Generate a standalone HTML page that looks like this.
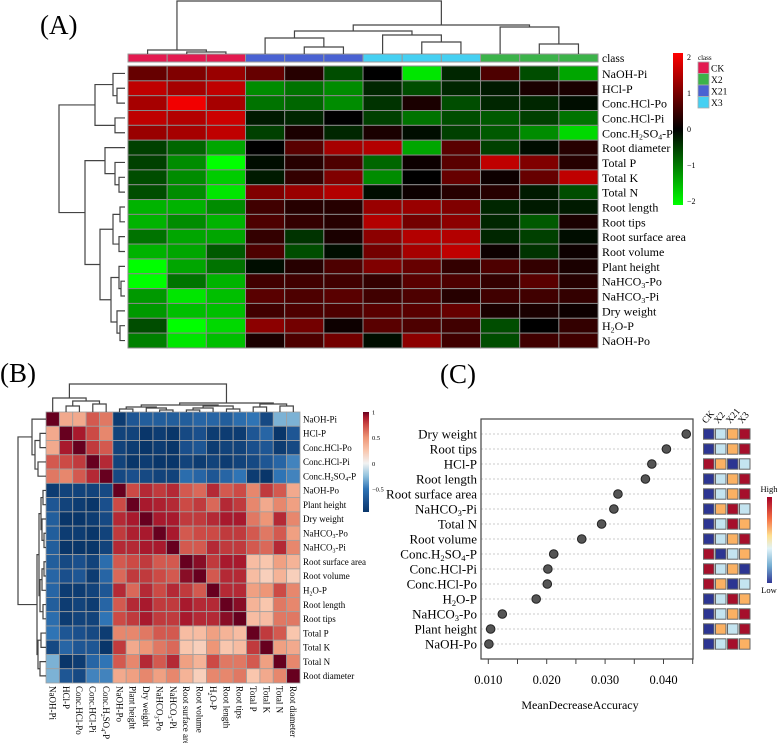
<!DOCTYPE html>
<html><head><meta charset="utf-8"><style>
html,body{margin:0;padding:0;background:#fff;}
svg{display:block;font-family:"Liberation Serif",serif;}
</style></head><body>
<svg id="fig" width="778" height="743" viewBox="0 0 778 743" xmlns="http://www.w3.org/2000/svg">
<text x="40" y="34" font-size="27">(A)</text>
<text x="0" y="382" font-size="27">(B)</text>
<text x="440" y="383" font-size="27">(C)</text>
<g id="gA"></g>
<g id="gB"></g>
<g id="gC"></g>
</svg>
<script>
// ---------- Panel A data ----------
const aRows = ["NaOH-Pi","HCl-P","Conc.HCl-Po","Conc.HCl-Pi","Conc.H_2SO_4-P","Root diameter","Total P","Total K","Total N","Root length","Root tips","Root surface area","Root volume","Plant height","NaHCO_3-Po","NaHCO_3-Pi","Dry weight","H_2O-P","NaOH-Po"];
const aClasses = ["CK","CK","CK","X21","X21","X21","X3","X3","X3","X2","X2","X2"];
const aValues = [
[0.8,1.0,1.2,0.8,0.3,-0.6,0,-1.8,-0.3,0.6,-0.6,-1.3],
[1.5,1.3,1.5,-1.1,-0.9,-1.1,-0.3,-0.6,-0.3,-0.2,0.2,0.2],
[1.3,1.9,1.3,-0.9,-0.8,-1.1,-0.4,0.2,-0.6,-0.3,-0.3,-0.1],
[1.5,1.4,1.6,-0.2,-0.3,0,-0.5,-0.9,-0.6,-0.7,-0.5,-0.9],
[1.2,1.3,1.5,-0.5,0.2,-0.3,0.2,-0.1,-0.5,-0.7,-1.1,-1.7],
[-0.5,-0.8,-1.3,0,0.7,1.3,1.4,-1.3,0.7,-0.5,-0.1,0.3],
[-0.5,-1.1,-2,-0.1,0.3,0.6,-0.8,0.1,0.7,1.5,1.0,0.3],
[-0.6,-1.1,-1.6,-0.2,0.4,1.0,-1.1,0,0.8,0.1,0.8,1.5],
[-0.6,-1.1,-1.8,1.0,1.2,1.4,-0.1,0.1,0.3,0.3,-0.2,-0.6],
[-1.4,-1.4,-1.1,0.5,0.3,0.3,1.2,1.2,1.0,-0.3,-0.2,-0.2],
[-1.4,-1.1,-1.4,0.6,0.4,0.3,1.4,0.9,1.1,-0.3,-0.7,0.2],
[-0.9,-1.3,-1.3,0.4,-0.4,0.2,1.1,1.4,1.4,-0.3,-0.5,-0.1],
[-1.4,-1.3,-0.7,0.6,-0.6,-0.1,0.9,1.3,1.5,0.1,-0.4,0.1],
[-2,-1.3,-0.9,-0.1,0.3,0.6,1.0,0.8,0.4,0.6,0.4,0.2],
[-2,-0.9,-1.4,0.5,0.5,0.5,0.4,0.7,0.6,0.4,0.7,0.3],
[-1.2,-1.8,-1.5,0.7,0.6,0.7,0.5,0.6,0.3,0.5,0.5,0.4],
[-1.2,-1.5,-1.5,0.5,0.6,0.6,0.7,0.7,0.8,0.2,0.2,0.1],
[-0.6,-2,-1.7,1.1,0.9,0.1,0.7,0.6,0.5,-0.6,0,0.4],
[-1.0,-1.8,-1.5,0.2,0.6,0.9,-0.1,1.1,0.5,-0.6,0.5,0.5]
];
const aLegendTicks = [2,1,0,-1,-2];
const aLegendClasses = ["CK","X2","X21","X3"];
// ---------- Panel B data ----------
const bVars = ["NaOH-Pi","HCl-P","Conc.HCl-Po","Conc.HCl-Pi","Conc.H_2SO_4-P","NaOH-Po","Plant height","Dry weight","NaHCO_3-Po","NaHCO_3-Pi","Root surface area","Root volume","H_2O-P","Root length","Root tips","Total P","Total K","Total N","Root diameter"];
const bUpper = [
[1,.4,.4,.7,.6,-.9,-.7,-.65,-.65,-.65,-.65,-.6,-.6,-.65,-.55,-.5,-.8,-.3,-.3],
[1,.9,.75,.55,-.85,-.85,-.95,-.9,-.95,-.8,-.75,-.9,-.9,-.9,-.7,-.6,-.95,-.7],
[1,.8,.7,-.85,-.9,-.95,-.9,-.95,-.75,-.7,-.9,-.85,-.85,-.75,-.7,-.9,-.8],
[1,.85,-.85,-.95,-.9,-.95,-.95,-.85,-.9,-.85,-.9,-.85,-.8,-.7,-.6,-.45],
[1,-.8,-.75,-.8,-.85,-.85,-.55,-.6,-.7,-.6,-.5,-.9,-.95,-.5,-.45],
[1,.75,.85,.8,.85,.7,.65,.85,.7,.75,.55,.8,.7,.4],
[1,.9,.88,.85,.75,.8,.65,.85,.8,.55,.4,.55,.45],
[1,.9,.9,.8,.8,.85,.9,.9,.6,.5,.85,.55],
[1,.9,.7,.75,.75,.8,.8,.7,.6,.7,.45],
[1,.7,.7,.85,.8,.8,.7,.65,.85,.55],
[1,.95,.8,.9,.9,.3,.25,.45,.35],
[1,.7,.85,.85,.3,.2,.35,.2],
[1,.85,.85,.45,.5,.75,.55],
[1,.95,.35,.25,.6,.55],
[1,.3,.3,.6,.6],
[1,.8,.7,.25],
[1,.45,.4],
[1,.55],
[1]
];
const bLegendTicks = [1,0.5,0,-0.5];
// ---------- Panel C data ----------
const cVars = ["Dry weight","Root tips","HCl-P","Root length","Root surface area","NaHCO_3-Pi","Total N","Root volume","Conc.H_2SO_4-P","Conc.HCl-Pi","Conc.HCl-Po","H_2O-P","NaHCO_3-Po","Plant height","NaOH-Po"];
const cAccuracy = [0.0439,0.0405,0.0380,0.0369,0.0322,0.0315,0.0294,0.0260,0.0212,0.0202,0.0201,0.0182,0.0124,0.0104,0.0101];
const cGroups = ["CK","X2","X21","X3"];
const cRanks = [
[1,2,3,4],[1,2,3,4],[4,3,1,2],[1,2,3,4],[1,2,3,4],[1,3,4,2],[1,2,4,3],[1,2,3,4],
[4,1,2,3],[4,2,3,1],[4,3,1,2],[1,2,4,3],[1,2,3,4],[1,3,2,4],[1,2,4,3]
];
const cTicks = [0.010,0.015,0.020,0.025,0.030,0.035,0.040,0.045];
const cTickLabels = [0.010,0.020,0.030,0.040];

const NS="http://www.w3.org/2000/svg";
function mk(parent,tag,attrs,txt){const e=document.createElementNS(NS,tag);for(const k in attrs)e.setAttribute(k,attrs[k]);if(txt!==undefined)e.textContent=txt;parent.appendChild(e);return e;}
// label with "_d" subscripts -> tspans
function lbl(parent,attrs,s){
  const t=mk(parent,"text",attrs);
  const fs=parseFloat(attrs["font-size"]);
  const parts=s.split(/(_\d)/);
  parts.forEach(p=>{if(!p)return;
    if(p[0]==="_"){mk(t,"tspan",{"font-size":fs*0.65,dy:fs*0.2},p[1]);mk(t,"tspan",{dy:-fs*0.2},"\u200b");}
    else mk(t,"tspan",{},p);});
  return t;
}
function hex(c){return [parseInt(c.slice(1,3),16),parseInt(c.slice(3,5),16),parseInt(c.slice(5,7),16)];}
function interp(stops,v){
  if(v<=stops[0][0])return stops[0][1];
  for(let i=1;i<stops.length;i++){if(v<=stops[i][0]){const a=stops[i-1],b=stops[i];const t=(v-a[0])/(b[0]-a[0]);const ca=hex(a[1]),cb=hex(b[1]);return "rgb("+ca.map((x,j)=>Math.round(x+(cb[j]-x)*t)).join(",")+")";}}
  return stops[stops.length-1][1];
}
function dendro(g,node,orient,edge,start,cell,name){
  function pos(n){ if(typeof n==="number")return {p:start+(n+.5)*cell,h:0};
    const l=pos(n[1]),r=pos(n[2]);const h=n[0];
    let d;
    if(orient==="top"){d=`M${l.p},${edge-l.h}V${edge-h}H${r.p}V${edge-r.h}`;}
    else {d=`M${edge-l.h},${l.p}H${edge-h}V${r.p}H${edge-r.h}`;}
    const e=mk(g,"path",{d:d,fill:"none",stroke:"#444","stroke-width":1.2});
    
    
    return {p:(l.p+r.p)/2,h:h};}
  pos(node);
}

// ---------- Draw A ----------
(function(){
  const g=document.getElementById("gA");
  const x0=128,cw=39.17,y0=66,rh=14.84;
  const clsCol={CK:"#e31a50",X21:"#4a62d2",X3:"#45d0f2",X2:"#3cb34a"};
  const colA=v=>v>=0?`rgb(${Math.round(Math.min(v,2)/2*255)},0,0)`:`rgb(0,${Math.round(Math.min(-v,2)/2*255)},0)`;
  aClasses.forEach((c,j)=>{const r=mk(g,"rect",{x:x0+j*cw,y:54,width:cw,height:8,fill:clsCol[c],stroke:"#999","stroke-width":1});
    });
  mk(g,"text",{x:602,y:62,"font-size":11.5},"class");
  aValues.forEach((row,i)=>{row.forEach((v,j)=>{const r=mk(g,"rect",{x:x0+j*cw,y:y0+i*rh,width:cw,height:rh,fill:colA(v),stroke:"#888","stroke-width":1});
      });
    const t=lbl(g,{x:602,y:y0+i*rh+rh/2+4.5,"font-size":12},aRows[i]);
    });
  const colTree=[53,[4,0,[2,1,2]],[29,[23,[16,3,[7,4,5]],[19,6,[12,7,8]]],[27,9,[10,10,11]]]];
  dendro(g,colTree,"top",54,x0,cw,"column-dendrogram");
  const rowTree=[66,[30,[12,0,[8,1,2]],[10,3,4]],[40,[20,5,[10,6,[6,7,8]]],[25,[12,[5,9,10],[6,11,12]],[14,[6,13,[4,14,15]],[8,16,[5,17,18]]]]]];
  dendro(g,rowTree,"left",125,y0,rh,"row-dendrogram");
  const defs=mk(g,"defs",{});
  const lg=mk(defs,"linearGradient",{id:"gradA",x1:0,y1:0,x2:0,y2:1});
  mk(lg,"stop",{offset:"0","stop-color":"#ff0000"});mk(lg,"stop",{offset:"0.5","stop-color":"#000000"});mk(lg,"stop",{offset:"1","stop-color":"#00ff00"});
  const cb=mk(g,"rect",{x:673,y:53,width:10,height:152,fill:"url(#gradA)"});
  
  aLegendTicks.forEach(t=>{const y=57+(2-t)/4*144;mk(g,"text",{x:687,y:y+3,"font-size":8},t<0?"−"+(-t):String(t));});
  mk(g,"text",{x:698,y:60,"font-size":7},"class");
  const lc={CK:"#e31a50",X2:"#3cb34a",X21:"#4a62d2",X3:"#45d0f2"};
  aLegendClasses.forEach((c,i)=>{const r=mk(g,"rect",{x:698,y:62+i*11.5,width:11,height:11.5,fill:lc[c],stroke:"#aaa","stroke-width":.8});
    
    mk(g,"text",{x:711,y:62+i*11.5+9.5,"font-size":9.5},c);});
})();

// ---------- Draw B ----------
(function(){
  const g=document.getElementById("gB");
  const n=bVars.length,x0=46,y0=412,cw=254/19,ch=271/19;
  const stops=[[-1,"#053061"],[-0.75,"#1a4f8c"],[-0.5,"#2f74b5"],[-0.25,"#8fc1dd"],[0,"#f2f2f2"],[0.25,"#f9c6ad"],[0.5,"#ee9677"],[0.75,"#cc4a45"],[0.9,"#a8192d"],[1,"#67001f"]];
  const M=[];for(let i=0;i<n;i++){M.push([]);}
  for(let i=0;i<n;i++)for(let k=0;k<bUpper[i].length;k++){const j=i+k;M[i][j]=bUpper[i][k];M[j][i]=bUpper[i][k];}
  for(let i=0;i<n;i++)for(let j=0;j<n;j++){const r=mk(g,"rect",{x:x0+j*cw,y:y0+i*ch,width:cw,height:ch,fill:interp(stops,M[i][j]),stroke:"#a0a0a0","stroke-width":0.8});
    }
  bVars.forEach((v,i)=>{const t=lbl(g,{x:x0+254+3,y:y0+i*ch+ch/2+3.2,"font-size":9},v);
    
    const cx=x0+(i+.5)*cw-3.2;
    const b=lbl(g,{x:0,y:0,"font-size":9,transform:`translate(${cx},${y0+271+3}) rotate(90)`},v);
    });
  const tree=[28,[14,0,[11,[6,1,2],[8,3,4]]],[9,[7,[5,[3,5,6],[4,7,[2,8,9]]],[6,[4,[2,10,11],12],[3,13,14]]],[8,[5,15,16],[6,17,18]]]];
  dendro(g,tree,"top",y0,x0,cw,"column-dendrogram");
  dendro(g,tree,"left",x0,y0,ch,"row-dendrogram");
  const defs=mk(g,"defs",{});
  const lg=mk(defs,"linearGradient",{id:"gradB",x1:0,y1:1,x2:0,y2:0});
  mk(lg,"stop",{offset:"0","stop-color":interp(stops,-0.95)});
  stops.forEach(s=>{if(s[0]>=-0.95)mk(lg,"stop",{offset:((s[0]+0.95)/1.95).toFixed(3),"stop-color":s[1]});});
  const cb=mk(g,"rect",{x:363,y:412,width:6,height:100,fill:"url(#gradB)"});
  
  bLegendTicks.forEach(t=>{const y=412+(1-t)/1.95*100;mk(g,"text",{x:372,y:y+2.5,"font-size":6.5},t<0?"−"+(-t):String(t));});
})();

// ---------- Draw C ----------
(function(){
  const g=document.getElementById("gC");
  const L=481,R=693,T=419,B=659,y0=434,dy=15;
  const xs=v=>488.3+(v-0.01)*5840;
  const rankCol={1:"#2c3592",2:"#c4e4f0",3:"#fbb163",4:"#a50f2b"};
  cVars.forEach((v,i)=>{const y=y0+i*dy;
    const gl=mk(g,"line",{x1:L,x2:R,y1:y,y2:y,stroke:"#bbb","stroke-width":.8,"stroke-dasharray":"2,2"});
    
    const t=lbl(g,{x:477,y:y+4.5,"font-size":13,"text-anchor":"end"},v);
    
    const d=mk(g,"circle",{cx:xs(cAccuracy[i]),cy:y,r:4.3,fill:"#555",stroke:"#222","stroke-width":1});
    
    cRanks[i].forEach((rk,j)=>{const s=mk(g,"rect",{x:703.5+j*12,y:y-5.2,width:10.5,height:10.4,fill:rankCol[rk],stroke:"#666","stroke-width":1});
      });
  });
  const box=mk(g,"rect",{x:L,y:T,width:R-L,height:B-T,fill:"none",stroke:"#444","stroke-width":1.2});
  
  cTicks.forEach(t=>{mk(g,"line",{x1:xs(t),x2:xs(t),y1:B,y2:B+5,stroke:"#444","stroke-width":1});});
  cTickLabels.forEach(t=>{const e=mk(g,"text",{x:xs(t),y:684,"font-size":12.5,"text-anchor":"middle"},t.toFixed(3));
    });
  const xt=mk(g,"text",{x:580,y:709,"font-size":12,"text-anchor":"middle"},"MeanDecreaseAccuracy");
  
  cGroups.forEach((c,j)=>{const e=mk(g,"text",{x:0,y:0,"font-size":9.5,transform:`translate(${706+j*12},${424}) rotate(-50)`},c);
    });
  const defs=mk(g,"defs",{});
  const lg=mk(defs,"linearGradient",{id:"gradC",x1:0,y1:0,x2:0,y2:1});
  [["0","#a50026"],["0.25","#f46d43"],["0.45","#fee090"],["0.6","#e0f3f8"],["0.8","#74add1"],["1","#313695"]].forEach(s=>mk(lg,"stop",{offset:s[0],"stop-color":s[1]}));
  const cb=mk(g,"rect",{x:767,y:497,width:5,height:86,fill:"url(#gradC)"});
  
  mk(g,"text",{x:769,y:492,"font-size":8.5,"text-anchor":"middle"},"High");
  mk(g,"text",{x:769,y:593,"font-size":8.5,"text-anchor":"middle"},"Low");
})();
</script>
</body></html>
